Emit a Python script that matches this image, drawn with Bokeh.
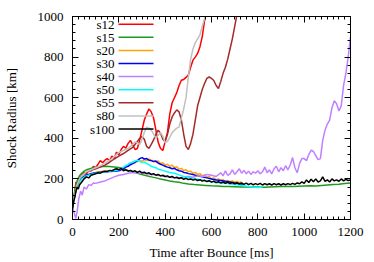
from bokeh.plotting import figure
from bokeh.models import (LinearAxis, FixedTicker, Range1d, Label, BoxAnnotation)
from bokeh.embed import file_html
from bokeh.resources import INLINE

names = ["s12", "s15", "s20", "s30", "s40", "s50", "s55", "s80", "s100"]
colors = ["#ff0000", "#1e9a1e", "#ffa500", "#0000ff", "#c080ff", "#00ffff", "#a52a2a", "#c0c0c0", "#000000"]

t_s12 = [0, 5, 10, 15, 20, 25, 30, 40, 50, 60, 70, 80, 90, 100, 110, 120, 130, 140, 150, 160, 170, 180, 190, 200,
         210, 220, 230, 240, 250, 260, 270, 280, 290, 300, 310, 320, 330, 340, 350, 360, 370, 380, 390, 400, 410,
         420, 430, 440, 450, 460, 470, 480, 490, 500, 510, 520, 530, 540, 550, 560, 570, 580, 590]
r_s12 = [60, 105, 140, 185, 170, 205, 195, 220, 232, 222, 245, 238, 262, 255, 272, 290, 280, 292, 300, 288, 312, 302,
         332, 318, 345, 360, 352, 375, 390, 368, 345, 350, 390, 440, 490, 520, 545, 530, 500, 440, 380, 350, 340,
         385, 430, 520, 575, 600, 625, 660, 686, 690, 700, 712, 750, 785, 800, 818, 850, 900, 980, 1040, 1100]

t_s15 = [0, 5, 10, 15, 20, 30, 40, 50, 60, 80, 100, 120, 140, 160, 180, 200, 220, 240, 260, 280, 300, 320, 340, 360,
         380, 400, 420, 440, 460, 480, 500, 525, 550, 575, 600, 625, 650, 675, 700, 725, 750, 775, 800, 825, 850,
         875, 900, 925, 950, 975, 1000, 1025, 1050, 1075, 1100, 1125, 1150, 1175, 1200]
r_s15 = [60, 100, 140, 170, 190, 215, 228, 238, 245, 252, 256, 260, 262, 261, 259, 256, 250, 242, 236, 228, 222, 215,
         210, 205, 200, 195, 190, 186, 183, 178, 175, 172, 170, 168, 166, 165, 163, 162, 161, 160, 160, 161, 160,
         159, 160, 161, 162, 163, 162, 164, 165, 166, 165, 168, 170, 172, 174, 177, 180]

t_s20 = [0, 10, 20, 30, 40, 60, 80, 100, 120, 140, 160, 180, 200, 220, 230, 240, 250, 260, 270, 280, 290, 300, 310,
         320, 330, 340, 350, 360, 370, 380, 390, 400, 410, 420, 430, 440, 450, 460, 470, 480, 490, 500, 510, 520,
         530, 540, 550, 560, 570, 580, 590, 600, 610, 620, 630, 640, 650, 660, 670, 680, 690, 700, 710, 720, 730]
r_s20 = [60, 120, 160, 185, 200, 215, 225, 232, 236, 238, 240, 242, 245, 250, 262, 270, 275, 282, 280, 285, 290, 288,
         295, 290, 298, 292, 290, 282, 288, 275, 280, 268, 272, 262, 268, 255, 260, 248, 252, 240, 245, 235, 238,
         228, 232, 222, 226, 215, 220, 208, 212, 200, 205, 196, 200, 192, 196, 188, 192, 186, 190, 184, 188, 182, 185]

t_s30 = [0, 10, 20, 30, 40, 60, 80, 100, 120, 140, 160, 180, 200, 210, 220, 230, 240, 250, 260, 270, 280, 290, 300,
         310, 320, 330, 340, 350, 360, 370, 380, 390, 400, 410, 420, 430, 440, 450, 460, 470, 480, 490, 500, 520,
         540, 560, 580, 600, 620, 640, 660, 680, 700, 720, 740]
r_s30 = [60, 120, 165, 190, 205, 218, 226, 230, 233, 235, 236, 238, 240, 245, 250, 258, 262, 270, 275, 282, 290, 300,
         305, 298, 300, 292, 290, 285, 288, 278, 272, 268, 262, 258, 255, 250, 252, 245, 240, 238, 232, 230, 226,
         222, 215, 210, 205, 200, 195, 192, 188, 185, 180, 176, 170]

t_s40 = [0, 8, 14, 20, 27, 35, 42, 50, 60, 70, 80, 90, 100, 120, 140, 160, 180, 200, 220, 240, 260, 280, 300, 320,
         340, 360, 380, 400, 420, 440, 460, 480, 500, 520, 540, 560, 580, 600, 620, 640, 650, 660, 670, 680, 690,
         700, 710, 720, 730, 740, 750, 760, 770, 780, 790, 800, 810, 820, 830, 840, 850, 860, 870, 880, 890, 900,
         910, 920, 930, 940, 950, 960, 970, 980, 990, 1000, 1010, 1020, 1030, 1040, 1050, 1060, 1070, 1080, 1090,
         1100, 1110, 1120, 1130, 1140, 1150, 1160, 1170, 1180, 1190, 1200]
r_s40 = [55, 30, 5, 40, 100, 140, 120, 160, 150, 172, 168, 180, 178, 185, 190, 200, 210, 218, 222, 228, 232, 230,
         228, 225, 222, 220, 215, 212, 208, 206, 205, 210, 212, 208, 215, 212, 222, 218, 212, 230, 215, 240, 218,
         225, 245, 222, 235, 250, 228, 242, 225, 238, 222, 235, 228, 240, 225, 235, 258, 230, 245, 225, 250, 262,
         235, 255, 240, 265, 245, 270, 305, 255, 230, 275, 300, 300, 290, 320, 342, 335, 315, 295, 300, 390, 440,
         470, 490, 550, 585, 570, 535, 560, 660, 720, 800, 900]

t_s50 = [0, 10, 20, 30, 40, 60, 80, 100, 120, 140, 160, 180, 200, 210, 220, 230, 240, 250, 260, 270, 280, 290, 300,
         310, 320, 330, 340, 350, 360, 370, 380, 390, 400, 420, 440, 460, 480, 500, 520, 540, 560, 580, 600, 620,
         640, 660, 680, 700, 720, 740, 760, 780, 800, 820]
r_s50 = [60, 120, 160, 185, 200, 215, 222, 228, 232, 235, 238, 240, 245, 250, 258, 265, 272, 280, 282, 288, 292, 286,
         280, 284, 275, 270, 262, 258, 255, 248, 245, 242, 238, 232, 228, 220, 212, 208, 202, 198, 195, 190, 186,
         182, 180, 178, 176, 172, 170, 166, 163, 160, 158, 160]

t_s55 = [0, 10, 20, 30, 40, 60, 80, 100, 120, 140, 160, 180, 200, 220, 240, 260, 280, 290, 300, 310, 320, 330, 340,
         350, 360, 370, 380, 390, 400, 410, 420, 430, 440, 450, 460, 470, 480, 490, 500, 510, 520, 530, 540, 550,
         560, 570, 580, 590, 600, 610, 620, 630, 640, 650, 660, 670, 680, 690, 700, 710]
r_s55 = [60, 125, 170, 200, 215, 232, 242, 250, 258, 268, 282, 298, 312, 325, 340, 355, 385, 400, 408, 395, 360, 350,
         370, 392, 420, 440, 425, 395, 385, 420, 470, 505, 525, 540, 530, 490, 420, 360, 345, 375, 420, 490, 560,
         600, 640, 670, 695, 702, 695, 685, 660, 645, 680, 720, 750, 790, 840, 890, 950, 1010]

t_s80 = [0, 10, 20, 30, 40, 60, 80, 100, 120, 140, 160, 180, 200, 220, 240, 260, 270, 280, 290, 300, 310, 320, 330,
         340, 350, 360, 370, 380, 390, 400, 410, 420, 430, 440, 450, 460, 470, 480, 490, 500, 510, 520, 530, 540,
         550, 560, 570, 580]
r_s80 = [60, 125, 170, 200, 215, 235, 245, 255, 265, 278, 292, 310, 330, 340, 350, 370, 382, 378, 368, 395, 430, 455,
         450, 440, 420, 400, 415, 428, 410, 378, 385, 405, 428, 440, 450, 455, 500, 545, 600, 700, 790, 840, 870,
         890, 910, 950, 990, 1040]

t_s100 = [0, 5, 10, 15, 20, 25, 30, 40, 50, 60, 70, 80, 90, 100, 110, 120, 130, 140, 150, 160, 170, 180, 190, 200,
          210, 220, 230, 240, 250, 260, 270, 280, 290, 300, 310, 320, 330, 340, 350, 360, 370, 380, 390, 400, 410,
          420, 430, 440, 450, 460, 470, 480, 490, 500, 510, 520, 530, 540, 550, 560, 570, 580, 590, 600, 610, 620,
          630, 640, 650, 660, 670, 680, 690, 700, 710, 720, 730, 740, 750, 760, 770, 780, 790, 800, 810, 820, 830,
          840, 850, 860, 870, 880, 890, 900, 910, 920, 930, 940, 950, 960, 970, 980, 990, 1000, 1010, 1020, 1030,
          1040, 1050, 1060, 1070, 1080, 1090, 1100, 1110, 1120, 1130, 1140, 1150, 1160, 1170, 1180, 1190, 1200]
r_s100 = [50, 90, 110, 140, 160, 150, 170, 185, 200, 210, 205, 218, 222, 225, 230, 228, 235, 238, 236, 242, 240, 246,
          250, 245, 252, 240, 245, 238, 242, 236, 240, 232, 238, 230, 233, 226, 230, 222, 226, 218, 222, 215, 218,
          212, 215, 208, 212, 205, 208, 202, 206, 198, 203, 197, 200, 194, 198, 192, 196, 189, 193, 187, 191, 184,
          189, 182, 186, 180, 185, 178, 184, 177, 182, 176, 181, 175, 180, 173, 179, 172, 178, 171, 177, 172, 178,
          170, 177, 171, 176, 170, 177, 171, 176, 170, 176, 171, 177, 172, 178, 173, 180, 176, 185, 178, 195, 182,
          198, 186, 200, 185, 190, 210, 188, 195, 185, 200, 190, 195, 188, 200, 190, 198, 192, 195]

series_t = [t_s12, t_s15, t_s20, t_s30, t_s40, t_s50, t_s55, t_s80, t_s100]
series_r = [r_s12, r_s15, r_s20, r_s30, r_s40, r_s50, r_s55, r_s80, r_s100]

x_ticks = [0, 200, 400, 600, 800, 1000, 1200]
y_ticks = [0, 200, 400, 600, 800, 1000]
x_minor = list(range(0, 1201, 25))
y_minor = list(range(0, 1001, 40))

FONT = "Liberation Serif"
FS = "13px"

p = figure(width=374, height=262, output_backend="svg", toolbar_location=None,
           x_range=Range1d(0, 1200), y_range=Range1d(0, 1000),
           min_border_left=72, min_border_right=24, min_border_top=16, min_border_bottom=42)
p.xgrid.visible = False
p.ygrid.visible = False
p.outline_line_color = "black"
p.outline_line_width = 1
p.background_fill_color = "white"
p.border_fill_color = "white"

def style_axis(ax, labels=True):
    ax.axis_line_color = "black"
    ax.major_tick_in = 6
    ax.major_tick_out = 0
    ax.minor_tick_in = 3
    ax.minor_tick_out = 0
    ax.major_tick_line_color = "black"
    ax.minor_tick_line_color = "black"
    ax.major_label_text_font = FONT
    ax.axis_label_text_font = FONT
    ax.axis_label_text_font_style = "normal"
    ax.axis_label_text_font_size = FS
    ax.axis_label_text_color = "black"
    if labels:
        ax.major_label_text_font_size = FS
        ax.major_label_text_color = "black"
    else:
        ax.major_label_text_font_size = "1px"
        ax.major_label_text_color = None
        ax.major_label_standoff = 0

xa = p.xaxis[0]
xa.ticker = FixedTicker(ticks=x_ticks, minor_ticks=x_minor)
style_axis(xa)
xa.axis_label = "Time after Bounce [ms]"
xa.major_label_standoff = 8
xa.axis_label_standoff = 6

ya = p.yaxis[0]
ya.ticker = FixedTicker(ticks=y_ticks, minor_ticks=y_minor)
style_axis(ya)
ya.axis_label = "Shock Radius [km]"
ya.major_label_standoff = 9
ya.axis_label_standoff = 16

top = LinearAxis(ticker=FixedTicker(ticks=x_ticks, minor_ticks=x_minor))
style_axis(top, labels=False)
p.add_layout(top, "above")
right = LinearAxis(ticker=FixedTicker(ticks=y_ticks, minor_ticks=y_minor))
style_axis(right, labels=False)
p.add_layout(right, "right")

for t, r, c in zip(series_t, series_r, colors):
    p.line(t, r, line_color=c, line_width=1.5)

# legend: label text at the left, sample line at the right (screen units, relative to the frame)
row0 = 204 - 8.7
step = 13.1
for i, (n, c) in enumerate(zip(names, colors)):
    yy = row0 - i * step
    p.add_layout(Label(x=42, y=yy, x_units="screen", y_units="screen", text=n,
                       text_align="right", text_baseline="middle", text_font=FONT,
                       text_font_size=FS, text_color="black"))
    p.add_layout(BoxAnnotation(left=46, right=81, bottom=yy - 0.75, top=yy + 0.75,
                               left_units="screen", right_units="screen",
                               bottom_units="screen", top_units="screen",
                               fill_color=c, fill_alpha=1.0, line_alpha=0))

open("out.html", "w").write(file_html(p, INLINE))
